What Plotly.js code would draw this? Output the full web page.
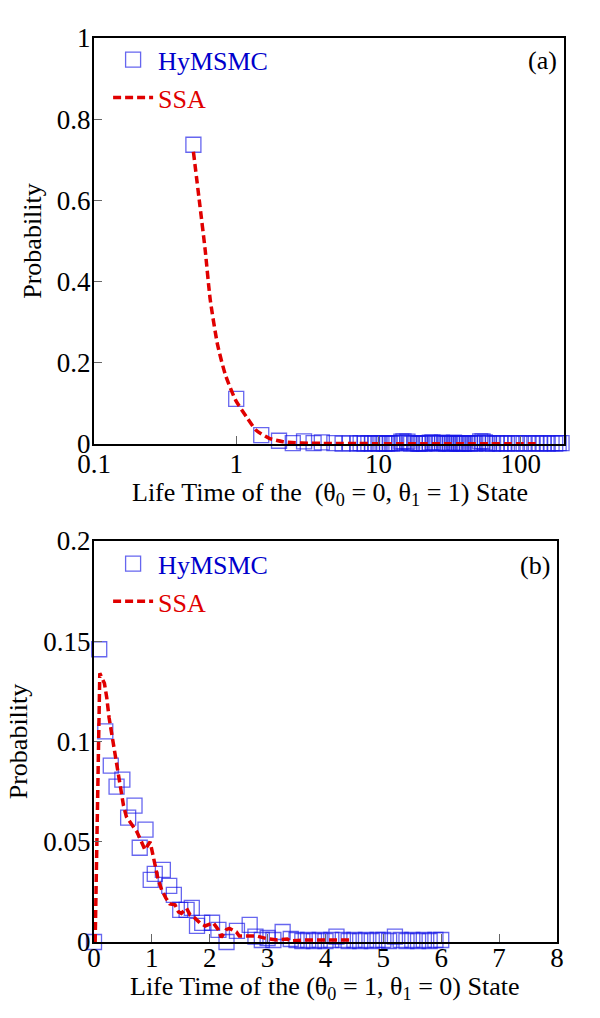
<!DOCTYPE html>
<html>
<head>
<meta charset="utf-8">
<script src="https://cdn.plot.ly/plotly-3.0.1.min.js"></script>
<style>html,body{margin:0;padding:0;background:#fff;}#chart{width:600px;height:1018px;}</style>
</head>
<body>
<div id="chart"></div>
<script>
// ---- Panel (a): lifetime of (θ0 = 0, θ1 = 1) state (log x) ----
const aHyX = [0.5, 1.0, 1.5, 2.0, 2.5, 3.0, 3.5, 4.0, 4.9, 5.6, 6.3, 7.1, 7.5, 8.0, 8.5, 9.0, 9.5, 10, 10.5, 11, 11.5, 12, 12.5, 13, 14, 14.5, 15, 16, 16.5, 17, 18, 19, 19.5, 20, 21, 22, 23, 24, 25, 26, 27, 28, 29, 30, 31, 32, 33, 34, 35, 36, 37, 38, 39, 40, 42, 44, 46, 48, 50, 52, 54, 56, 58, 60, 64, 68, 72, 76, 80, 86, 92, 98, 105, 112, 120, 128, 136, 145, 155, 165, 175, 185, 194];
const aHyP = [0.737, 0.111, 0.022, 0.008, 0.002, 0.0066, 0.002, 0.004, 0.002, 0.001, 0.002, 0.001, 0.002, 0.001, 0.002, 0.001, 0.002, 0.001, 0.002, 0.001, 0.001, 0.002, 0.001, 0.002, 0.002, 0.006, 0.0066, 0.006, 0.002, 0.001, 0.002, 0.001, 0.001, 0.002, 0.001, 0.002, 0.003, 0.004, 0.002, 0.001, 0.002, 0.003, 0.002, 0.001, 0.002, 0.001, 0.002, 0.003, 0.002, 0.001, 0.002, 0.001, 0.002, 0.001, 0.002, 0.001, 0.002, 0.001, 0.002, 0.0066, 0.0066, 0.004, 0.001, 0.002, 0.001, 0.002, 0.001, 0.002, 0.001, 0.002, 0.001, 0.002, 0.001, 0.002, 0.001, 0.002, 0.001, 0.002, 0.001, 0.002, 0.001, 0.002, 0.002];
const aSsaX = [0.5, 0.55, 0.605, 0.657, 0.74, 0.84, 0.99, 1.18, 1.38, 1.71, 2.14, 2.6, 3.2, 4, 5, 7, 10, 15, 20, 30, 40, 60, 80, 100, 135];
const aSsaP = [0.72, 0.60, 0.478, 0.355, 0.244, 0.17, 0.108, 0.067, 0.034, 0.014, 0.0057, 0.003, 0.002, 0.0015, 0.001, 0.001, 0.0008, 0.0008, 0.0006, 0.0006, 0.0005, 0.0005, 0.0004, 0.0004, 0.0003];
const aXTickVals = [0.1, 1, 10, 100];
const aXTickText = ["0.1", "1", "10", "100"];
const aYTickVals = [0, 0.2, 0.4, 0.6, 0.8, 1];
const aYTickText = ["0", "0.2", "0.4", "0.6", "0.8", "1"];
const aXTitle = 'Life Time of the  (θ<sub>0</sub> = 0, θ<sub>1</sub> = 1) State';

// ---- Panel (b): lifetime of (θ0 = 1, θ1 = 0) state ----
const bHyX = [0, 0.09, 0.195, 0.29, 0.39, 0.49, 0.59, 0.70, 0.79, 0.89, 0.98, 1.05, 1.19, 1.30, 1.38, 1.49, 1.60, 1.69, 1.78, 1.87, 2.04, 2.15, 2.29, 2.47, 2.69, 2.79, 2.90, 3.0, 3.1, 3.26, 3.4, 3.5, 3.6, 3.7, 3.8, 3.9, 4.0, 4.1, 4.19, 4.3, 4.4, 4.5, 4.6, 4.7, 4.8, 4.9, 5.0, 5.1, 5.2, 5.3, 5.4, 5.5, 5.6, 5.7, 5.8, 5.9, 6.0];
const bHyP = [0, 0.146, 0.105, 0.088, 0.0775, 0.081, 0.062, 0.068, 0.047, 0.056, 0.031, 0.034, 0.036, 0.028, 0.0235, 0.016, 0.016, 0.017, 0.008, 0.0095, 0.0096, 0.006, 0.0, 0.0056, 0.0085, 0.0027, 0.001, 0.002, 0.001, 0.005, 0.0015, 0.001, 0.0005, 0.001, 0.0005, 0.001, 0.0005, 0.001, 0.0027, 0.001, 0.0005, 0.001, 0.0005, 0.001, 0.0005, 0.001, 0.001, 0.0005, 0.0027, 0.001, 0.0005, 0.001, 0.0005, 0.001, 0.0005, 0.001, 0.001];
const bSsaX = [0.02, 0.1, 0.18, 0.22, 0.26, 0.32, 0.36, 0.42, 0.46, 0.51, 0.56, 0.65, 0.74, 0.82, 0.88, 0.97, 1.02, 1.07, 1.11, 1.17, 1.24, 1.31, 1.40, 1.46, 1.51, 1.60, 1.66, 1.74, 1.83, 1.92, 2.06, 2.15, 2.2, 2.29, 2.34, 2.46, 2.51, 2.64, 2.81, 2.97, 3.17, 3.34, 3.4, 3.67, 3.99, 4.45];
const bSsaP = [0, 0.134, 0.129, 0.122, 0.112, 0.102, 0.094, 0.084, 0.0775, 0.068, 0.0625, 0.059, 0.055, 0.05, 0.046, 0.05, 0.0425, 0.036, 0.031, 0.026, 0.022, 0.019, 0.0185, 0.015, 0.0143, 0.0168, 0.0135, 0.012, 0.0095, 0.008, 0.0096, 0.006, 0.0023, 0.0063, 0.0068, 0.005, 0.003, 0.003, 0.003, 0.0018, 0.001, 0.0015, 0.0005, 0.001, 0.001, 0.001];
const bXTickVals = [0, 1, 2, 3, 4, 5, 6, 7, 8];
const bYTickVals = [0, 0.05, 0.1, 0.15, 0.2];
const bYTickText = ["0", "0.05", "0.1", "0.15", "0.2"];
const bXTitle = 'Life Time of the (θ<sub>0</sub> = 1, θ<sub>1</sub> = 0) State';

const seriesNames = ['<span style="color:#0000cc">HyMSMC</span>', '<span style="color:#e00000">SSA</span>'];

const FONT = 'Liberation Serif';
const sqMarker = {symbol: 'square-open', size: 15, color: 'rgba(20,20,230,0.65)', line: {width: 1.3}};
const ssaLine = {color: '#e00000', width: 3.5, dash: '8px,4px'};

const traces = [
  {x: aHyX, y: aHyP, type: 'scatter', mode: 'markers', name: seriesNames[0], marker: sqMarker, xaxis: 'x', yaxis: 'y', legend: 'legend', legendgroup: 'a1', cliponaxis: false},
  {x: aSsaX, y: aSsaP, type: 'scatter', mode: 'lines', name: seriesNames[1], line: Object.assign({shape: 'spline', smoothing: 0.6}, ssaLine), xaxis: 'x', yaxis: 'y', legend: 'legend', legendgroup: 'a2'},
  {x: bHyX, y: bHyP, type: 'scatter', mode: 'markers', name: seriesNames[0], marker: sqMarker, xaxis: 'x2', yaxis: 'y2', legend: 'legend2', legendgroup: 'b1', cliponaxis: false},
  {x: bSsaX, y: bSsaP, type: 'scatter', mode: 'lines', name: seriesNames[1], line: ssaLine, xaxis: 'x2', yaxis: 'y2', legend: 'legend2', legendgroup: 'b2'}
];

const axisCommon = {
  showline: true, linecolor: '#000', linewidth: 2, mirror: true,
  ticks: 'inside', ticklen: 8, tickwidth: 1, tickcolor: '#666',
  showgrid: false, zeroline: false,
  tickfont: {family: FONT, size: 27, color: '#000'}
};
const titleFont = {family: FONT, size: 26, color: '#000'};

const legendCommon = {
  xanchor: 'left', yanchor: 'top', bgcolor: 'rgba(0,0,0,0)',
  font: {family: FONT, size: 26, color: '#000'},
  traceorder: 'grouped', tracegroupgap: 1, itemwidth: 40
};

const layout = {
  width: 600, height: 1018,
  margin: {l: 94, r: 36, t: 38, b: 76},
  paper_bgcolor: '#fff', plot_bgcolor: '#fff',
  font: {family: FONT, size: 26, color: '#000'},
  xaxis: Object.assign({}, axisCommon, {
    type: 'log', range: [-1, 2.305], domain: [0, 1], anchor: 'y',
    tickvals: aXTickVals, ticktext: aXTickText, ticklabelstandoff: -5
  }),
  yaxis: Object.assign({}, axisCommon, {
    range: [0, 1], domain: [0.5509, 1], anchor: 'x',
    tickvals: aYTickVals, ticktext: aYTickText, ticklabelstandoff: -4,
    title: {text: 'Probability', font: titleFont, standoff: 8}
  }),
  xaxis2: Object.assign({}, axisCommon, {
    range: [0, 8], domain: [0, 0.985], anchor: 'y2',
    tickvals: bXTickVals, ticklabelstandoff: -9
  }),
  yaxis2: Object.assign({}, axisCommon, {
    range: [0, 0.2], domain: [0, 0.4436], anchor: 'x2',
    tickvals: bYTickVals, ticktext: bYTickText, ticklabelstandoff: -4,
    title: {text: 'Probability', font: titleFont, standoff: 8}
  }),
  legend: Object.assign({}, legendCommon, {x: 0.03, y: 1.002}),
  legend2: Object.assign({}, legendCommon, {x: 0.03, y: 0.4445}),
  annotations: [
    {text: aXTitle, xref: 'paper', yref: 'paper', x: 0.502, y: 0.4955, showarrow: false, font: titleFont, xanchor: 'center', yanchor: 'middle'},
    {text: bXTitle, xref: 'paper', yref: 'paper', x: 0.491, y: -0.0505, showarrow: false, font: titleFont, xanchor: 'center', yanchor: 'middle'},
    {text: '(a)', xref: 'paper', yref: 'paper', x: 0.955, y: 0.9746, showarrow: false, font: titleFont, xanchor: 'center', yanchor: 'middle'},
    {text: '(b)', xref: 'paper', yref: 'paper', x: 0.938, y: 0.417, showarrow: false, font: titleFont, xanchor: 'center', yanchor: 'middle'}
  ],
  showlegend: true
};

Plotly.newPlot('chart', traces, layout, {staticPlot: true, displayModeBar: false});
</script>
</body>
</html>
